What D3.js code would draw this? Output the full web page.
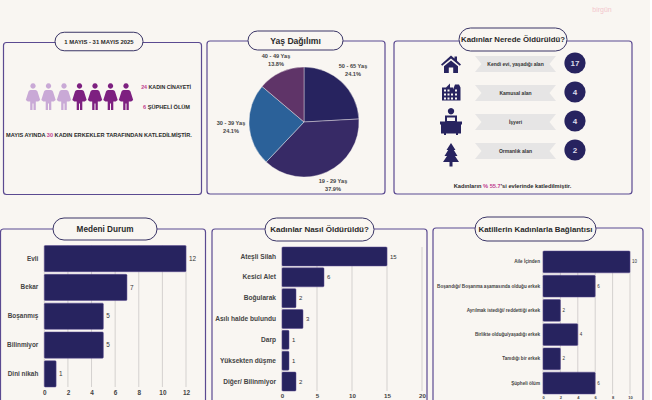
<!DOCTYPE html>
<html>
<head>
<meta charset="utf-8">
<script src="https://cdn.jsdelivr.net/npm/d3@7"></script>
<style>
  html, body { margin: 0; padding: 0; background: #f9f6f2; overflow: hidden; }
  text { font-family: "Liberation Sans", Arial, sans-serif; }
</style>
</head>
<body>
<div id="chart"></div>
<script>
const navy = "#27235f", plum = "#7d2080", lilac = "#c9a9d6", border = "#5b4a91", ink = "#2a2a2a", pink = "#c0408f", paper = "#f9f6f2";

const maritalCats = ["Evli", "Bekar", "Boşanmış", "Bilinmiyor", "Dini nikah"];
const maritalVals = [12, 7, 5, 5, 1];
const maritalTicks = [0, 2, 4, 6, 8, 10, 12];

const methodCats = ["Ateşli Silah", "Kesici Alet", "Boğularak", "Asılı halde bulundu", "Darp", "Yüksekten düşme", "Diğer/ Bilinmiyor"];
const methodVals = [15, 6, 2, 3, 1, 1, 2];
const methodTicks = [0, 5, 10, 15, 20];

const killerCats = ["Aile İçinden", "Boşandığı/ Boşanma aşamasında olduğu erkek", "Ayrılmak istediği/ reddettiği erkek", "Birlikte olduğu/yaşadığı erkek", "Tanıdığı bir erkek", "Şüpheli ölüm"];
const killerVals = [10, 6, 2, 4, 2, 6];
const killerTicks = [0, 2, 4, 6, 8, 10];

const ageCats = ["50 - 65 Yaş", "19 - 29 Yaş", "30 - 39 Yaş", "40 - 49 Yaş"];
const ageVals = [24.1, 37.9, 24.1, 13.8];
const ageColors = ["#27235f", "#372a66", "#2b6199", "#5f3468"];

const placeCats = ["Kendi evi, yaşadığı alan", "Kamusal alan", "İşyeri", "Ormanlık alan"];
const placeVals = [17, 4, 4, 2];

const svg = d3.select("#chart").append("svg").attr("width", 652).attr("height", 400);

// the page scan stops just short of the right edge
svg.append("rect").attr("x", 650).attr("y", 0).attr("width", 2).attr("height", 400).attr("fill", "#ffffff");

// panel with the pill title sitting on the top edge
function panel(x, y, w, h, title, px, pw, cy, ph, fs) {
  svg.append("rect").attr("x", x).attr("y", y).attr("width", w).attr("height", h).attr("rx", 3)
    .attr("fill", "none").attr("stroke", border).attr("stroke-width", 1.2);
  svg.append("rect").attr("x", px).attr("y", cy - ph / 2).attr("width", pw).attr("height", ph).attr("rx", ph / 2)
    .attr("fill", paper).attr("stroke", "#3a3566").attr("stroke-width", 1);
  svg.append("text").attr("x", px + pw / 2).attr("y", cy + fs * 0.35).attr("text-anchor", "middle")
    .attr("font-size", fs).attr("font-weight", "bold").attr("fill", ink).text(title);
}

panel(3.5, 42.5, 198, 152, "1 MAYIS - 31 MAYIS 2025", 55, 88, 41.5, 18.5, 5.9);
panel(207, 41, 178, 153, "Yaş Dağılımı", 248, 95, 40.5, 19, 8.6);
panel(394, 41, 238, 153, "Kadınlar Nerede Öldürüldü?", 459, 108, 39.5, 23, 7.8);
panel(0.5, 229, 205, 180, "Medeni Durum", 53, 104, 229, 22, 8.2);
panel(212, 229, 215, 180, "Kadınlar Nasıl Öldürüldü?", 265, 109, 229.5, 23, 8);
panel(433, 228, 210, 180, "Katillerin Kadınlarla Bağlantısı", 475, 121, 229, 24, 7.9);

svg.append("text").attr("x", 602).attr("y", 12).attr("text-anchor", "middle").attr("font-size", 7)
  .attr("fill", "#f3c6cd").text("birgün");

// figures row, 3 light + 4 dark
const figureX = d3.scalePoint().domain(d3.range(7)).range([33, 126]);
const woman = "M0,-9.3 a2.7,2.7 0 1,1 0.01,0 M-2.5,-8 h5 q1.4,0 2,1.5 l2.7,8.5 -2,1.6 h-2.4 v8.4 h-2.3 v-6.6 h-1 v6.6 h-2.3 v-8.4 h-2.4 l-2,-1.6 2.7,-8.5 q0.6,-1.5 2,-1.5 z";
svg.append("g").selectAll("path").data(d3.range(7)).join("path")
  .attr("d", woman).attr("transform", d => `translate(${figureX(d)},98)`)
  .attr("fill", d => d < 3 ? lilac : plum);

function richLine(x, y, anchor, parts, fs) {
  const t = svg.append("text").attr("x", x).attr("y", y).attr("text-anchor", anchor)
    .attr("font-size", fs).attr("font-weight", "bold").attr("fill", ink);
  parts.forEach(p => t.append("tspan").attr("fill", p[1] || ink).text(p[0]));
}
richLine(191, 89, "end", [["24 ", pink], ["KADIN CİNAYETİ"]], 5.3);
richLine(190, 108.5, "end", [["6 ", pink], ["ŞÜPHELİ ÖLÜM"]], 5.6);
richLine(6, 137, "start", [["MAYIS AYINDA "], ["30 ", pink], ["KADIN ERKEKLER TARAFINDAN KATLEDİLMİŞTİR."]], 5.6);

// pie
const pieG = svg.append("g").attr("transform", "translate(304,122)");
const arcs = d3.pie().sort(null)(ageVals);
const arc = d3.arc().innerRadius(0).outerRadius(55);
pieG.selectAll("path").data(arcs).join("path").attr("d", arc)
  .attr("fill", (d, i) => ageColors[i]).attr("stroke", paper).attr("stroke-width", 0.4);
const ageLabelPos = [[353, 68], [333, 183], [231, 125], [276, 58]];
ageCats.forEach((c, i) => {
  const t = svg.append("text").attr("text-anchor", "middle").attr("font-size", 5.6).attr("font-weight", "bold").attr("fill", "#444");
  t.append("tspan").attr("x", ageLabelPos[i][0]).attr("y", ageLabelPos[i][1]).text(c);
  t.append("tspan").attr("x", ageLabelPos[i][0]).attr("y", ageLabelPos[i][1] + 8).text(d3.format(".1f")(ageVals[i]) + "%");
});

// place rows
const placeY = d3.scalePoint().domain(placeCats).range([63, 150]);
const ribbon = "M-40.5,-8 H40.5 L34,0 L40.5,8 H-40.5 L-34,0 Z";
const icons = [
  { dy: 1.5, d: "M0,-9 L3.5,-6 V-8 H6 V-3.8 L10,0 L8.8,1.3 L0,-6 L-8.8,1.3 L-10,0 Z M0,-4 L7,1.8 V8.5 H2.2 V3 H-2.2 V8.5 H-7 V1.8 Z" },
  { dy: -0.5, d: "M-9,-4 H-5 L-1,-8 V-4 H2 V-2 L4,-7 H8 L9.5,-4 V9 H-9 Z M-7,-2 V0 H-5 V-2 Z M-3.5,-2 V0 H-1.5 V-2 Z M4,-2 V0 H6 V-2 Z M-7,2 V4 H-5 V2 Z M-3.5,2 V4 H-1.5 V2 Z M0,2 V4 H2 V2 Z M4,2 V4 H6 V2 Z M-7,6 V8 H-5 V6 Z M-3.5,6 V8 H-1.5 V6 Z M0,6 V8 H2 V6 Z M4,6 V8 H6 V6 Z" },
  { dy: 0.5, d: "M0,-7.1 a3.2,3.2 0 1,1 0.01,0 M-6,-6 H6 V0 H11 V3 H10 V12 H7 V13.5 H5 V12 H-5 V13.5 H-7 V12 H-10 V3 H-11 V0 H-6 Z M-4,-4 V-0.5 H4 V-4 Z" },
  { dy: 5, d: "M0,-12 L4.5,-5 H2.8 L6.5,1 H4 L8,7 H1.5 V11.5 H-1.5 V7 H-8 L-4,1 H-6.5 L-2.8,-5 H-4.5 Z" }
];
const rows = svg.append("g").selectAll("g").data(placeCats).join("g")
  .attr("transform", d => `translate(0,${placeY(d)})`);
rows.append("path").attr("d", (d, i) => icons[i].d).attr("fill-rule", "evenodd")
  .attr("transform", (d, i) => `translate(451,${icons[i].dy})`).attr("fill", navy);
rows.append("path").attr("d", ribbon).attr("transform", "translate(515.5,1)").attr("fill", "#e6e5e5");
rows.append("text").attr("x", 515.5).attr("y", 3).attr("text-anchor", "middle").attr("font-size", 5).attr("font-weight", "bold").attr("fill", "#333").text(d => d);
rows.append("circle").attr("cx", 575).attr("cy", 0).attr("r", 10.6).attr("fill", navy);
rows.append("text").attr("x", 575).attr("y", 3).attr("text-anchor", "middle").attr("font-size", 8).attr("font-weight", "bold").attr("fill", "#dcdcec").text((d, i) => placeVals[i]);
richLine(512.5, 187.5, "middle", [["Kadınların "], ["% 55.7", pink], ["'si evlerinde katledilmiştir."]], 5.7);

// horizontal bar chart, same shape for all three lower panels
function barChart(o) {
  const x = d3.scaleLinear().domain([0, o.max]).range([o.x0, o.x1]);
  const y = d3.scaleBand().domain(o.cats).range([o.y0, o.y1]).paddingInner(o.pad).paddingOuter(0);
  const g = svg.append("g");
  g.selectAll("line.grid").data(o.ticks).join("line").attr("class", "grid")
    .attr("x1", d => x(d)).attr("x2", d => x(d)).attr("y1", o.y0).attr("y2", o.y1)
    .attr("stroke", "#d4d1cf").attr("stroke-width", 1);
  g.selectAll("rect").data(o.vals).join("rect")
    .attr("x", x(0)).attr("y", (d, i) => y(o.cats[i])).attr("width", d => x(d) - x(0)).attr("height", y.bandwidth())
    .attr("rx", 1).attr("fill", navy).attr("stroke", "#5b4a91").attr("stroke-width", 0.5);
  g.selectAll("text.val").data(o.vals).join("text").attr("class", "val")
    .attr("x", d => x(d) + o.valGap).attr("y", (d, i) => y(o.cats[i]) + y.bandwidth() / 2 + o.valFs * 0.35)
    .attr("font-size", o.valFs).attr("fill", "#333").text(d => d);
  const yAxis = g.append("g").attr("transform", `translate(${o.x0},0)`).call(d3.axisLeft(y).tickSize(0).tickPadding(o.labelPad));
  yAxis.select(".domain").remove();
  yAxis.selectAll("text").attr("font-size", o.catFs).attr("font-weight", "bold").attr("fill", "#444");
  const xAxis = g.append("g").attr("transform", `translate(0,${o.y1})`).call(d3.axisBottom(x).tickValues(o.ticks).tickSize(0).tickPadding(o.tickPad));
  xAxis.select(".domain").remove();
  xAxis.selectAll("text").attr("font-size", o.tickFs).attr("font-weight", "bold").attr("fill", "#444");
  g.selectAll("text").attr("font-family", "Liberation Sans");
}

barChart({ cats: maritalCats, vals: maritalVals, ticks: maritalTicks, max: 12, x0: 44.3, x1: 186, y0: 245.5, y1: 387, pad: 0.09,
  valGap: 3, valFs: 6.4, catFs: 6.4, labelPad: 6, tickFs: 6.4, tickPad: 3 });
barChart({ cats: methodCats, vals: methodVals, ticks: methodTicks, max: 20, x0: 282, x1: 422, y0: 247, y1: 391, pad: 0.09,
  valGap: 3, valFs: 6, catFs: 6.6, labelPad: 6, tickFs: 6.2, tickPad: 3 });
barChart({ cats: killerCats, vals: killerVals, ticks: killerTicks, max: 10, x0: 543, x1: 630, y0: 251, y1: 394, pad: 0.1,
  valGap: 2, valFs: 4.5, catFs: 4.6, labelPad: 3, tickFs: 4, tickPad: 2 });
</script>
</body>
</html>
